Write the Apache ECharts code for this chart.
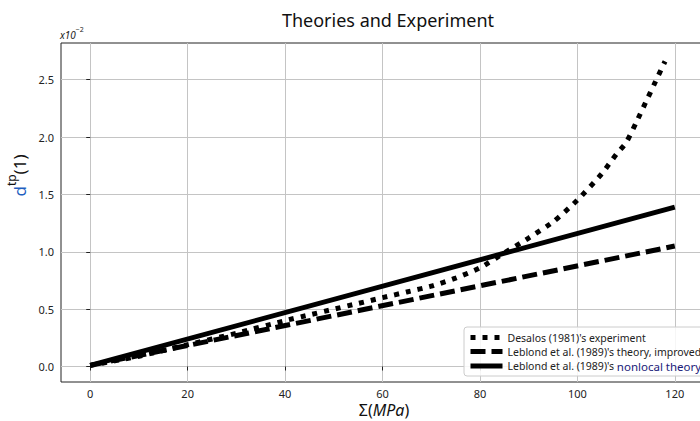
<!DOCTYPE html>
<html><head><meta charset="utf-8">
<script src="https://cdn.jsdelivr.net/npm/echarts@6/dist/echarts.min.js"></script>
<style>html,body{margin:0;padding:0;background:#fff}#c{width:700px;height:421px}</style>
</head><body><div id="c"></div>
<script>
// values in units of 1e-2
const xTicks = [0, 20, 40, 60, 80, 100, 120];
const yTicks = [0, 0.5, 1.0, 1.5, 2.0, 2.5];
const seriesNames = ["Desalos (1981)'s experiment", "Leblond et al. (1989)'s theory, improved", "Leblond et al. (1989)'s nonlocal theory"];
const expX = [0, 10, 20, 30, 40, 45, 50, 55, 60, 65, 70, 75, 80, 85, 90, 95, 100, 105, 108, 110, 112, 114, 116, 118];
const expY = [0.01, 0.09, 0.19, 0.29, 0.40, 0.45, 0.50, 0.55, 0.60, 0.65, 0.70, 0.77, 0.86, 0.99, 1.12, 1.26, 1.45, 1.68, 1.85, 1.95, 2.12, 2.30, 2.48, 2.66];
const improvedX = [0, 120];
const improvedY = [0.01, 1.05];
const nonlocalX = [0, 120];
const nonlocalY = [0.01, 1.39];

const zip = (xs, ys) => xs.map((x, i) => [x, ys[i]]);
const chart = echarts.init(document.getElementById('c'), null, {renderer: 'svg'});
const FONT = 'Noto Sans';
chart.setOption({
  animation: false,
  title: {text: 'Theories and Experiment', left: 383, top: 6, textAlign: 'center',
    textStyle: {fontFamily: FONT, fontWeight: 'normal', fontSize: 18, color: '#111'}},
  grid: {left: 61, top: 43, width: 643, height: 339, show: true, borderColor: '#222', borderWidth: 1,
    containLabel: false, outerBoundsMode: 'none'},
  xAxis: {type: 'value', min: -6, max: 126,
    axisLine: {show: false},
    axisTick: {show: true, customValues: xTicks, length: 4, lineStyle: {color: '#222'}},
    axisLabel: {customValues: xTicks, fontFamily: FONT, fontSize: 11, lineHeight: 12, color: '#222', margin: 5},
    splitLine: {show: true, lineStyle: {color: '#c4c4c4', width: 1}}},
  yAxis: {type: 'value', min: -0.135, max: 2.82,
    name: '{d|d}{s|tp}{n|(1)}', nameLocation: 'middle', nameRotate: 90, nameGap: 30,
    nameTextStyle: {padding: [0, 0, 0, 74], rich: {
      d: {fontFamily: FONT, fontSize: 17, color: '#1f5fc0', verticalAlign: 'bottom', lineHeight: 22},
      s: {fontFamily: FONT, fontSize: 12, color: '#111', verticalAlign: 'top', lineHeight: 22},
      n: {fontFamily: FONT, fontSize: 17, color: '#111', verticalAlign: 'bottom', lineHeight: 22}}},
    axisLine: {show: false},
    axisTick: {show: true, customValues: yTicks, length: 4, lineStyle: {color: '#222'}},
    axisLabel: {customValues: yTicks, fontFamily: FONT, fontSize: 11, color: '#222', margin: 7,
      formatter: v => v.toFixed(1)},
    splitLine: {show: true, lineStyle: {color: '#c4c4c4', width: 1}}},
  legend: {orient: 'vertical', left: 464, top: 327, itemWidth: 32, itemHeight: 8, itemGap: 3,
    backgroundColor: 'rgba(255,255,255,0.85)', borderColor: '#ccc', borderWidth: 1, borderRadius: 3,
    padding: [5, 4, 4, 4],
    itemStyle: {opacity: 0},
    lineStyle: {width: 5, cap: 'butt'},
    data: seriesNames,
    formatter: n => n.indexOf('nonlocal') >= 0 ? "Leblond et al. (1989)'s {b|nonlocal theory}" : n,
    textStyle: {fontFamily: FONT, fontSize: 10.5, color: '#222',
      rich: {b: {fontFamily: FONT, fontSize: 11.5, color: '#1a1a7a'}}}},
  series: [
    {name: seriesNames[0], type: 'line', data: zip(expX, expY), showSymbol: false, symbol: 'none', smooth: 0.2,
      itemStyle: {color: '#000'},
      lineStyle: {color: '#000', width: 5, type: [5, 7], cap: 'butt'}, z: 3},
    {name: seriesNames[1], type: 'line', data: zip(improvedX, improvedY), showSymbol: false, symbol: 'none',
      itemStyle: {color: '#000'},
      lineStyle: {color: '#000', width: 5, type: [15, 6], cap: 'butt'}, z: 4},
    {name: seriesNames[2], type: 'line', data: zip(nonlocalX, nonlocalY), showSymbol: false, symbol: 'none',
      itemStyle: {color: '#000'},
      lineStyle: {color: '#000', width: 5, type: 'solid'}, z: 5}
  ],
  graphic: [
    {type: 'text', x: 60, y: 26, style: {text: '{a|x10}{b|−2}', rich: {
      a: {fontFamily: FONT, fontSize: 10, fontStyle: 'italic', fill: '#222', verticalAlign: 'bottom', lineHeight: 14},
      b: {fontFamily: FONT, fontSize: 7, fill: '#222', verticalAlign: 'top', lineHeight: 14}}}},
    {type: 'text', x: 384, y: 410, style: {text: '{r|Σ(}{i|MPa}{r|)}', align: 'center', verticalAlign: 'middle',
      rich: {r: {fontFamily: FONT, fontSize: 16, lineHeight: 16, fill: '#111'},
             i: {fontFamily: FONT, fontSize: 16, lineHeight: 16, fontStyle: 'italic', fill: '#111'}}}}
  ]
});
</script></body></html>
